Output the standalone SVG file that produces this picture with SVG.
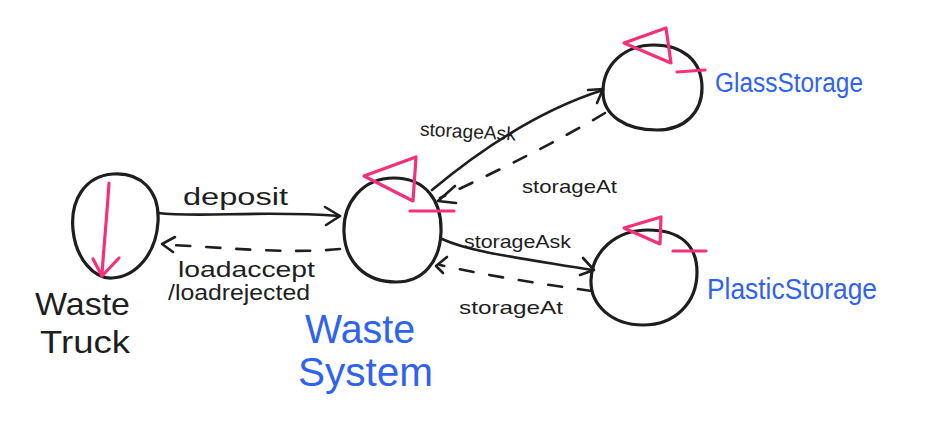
<svg xmlns="http://www.w3.org/2000/svg" width="941" height="445" viewBox="0 0 941 445">
<style>
.node{fill:none;stroke:#1e1e1e;stroke-width:3.2;stroke-linecap:round;stroke-linejoin:round}
.edge{fill:none;stroke:#1e1e1e;stroke-width:2.6;stroke-linecap:round;stroke-linejoin:round}
.dash{stroke-dasharray:14 16}
.pink{fill:none;stroke:#f5307a;stroke-width:3.2;stroke-linecap:round;stroke-linejoin:round}
.lbl{font-family:"Liberation Sans",Arial,sans-serif;fill:#1e1e1e}
.name{font-family:"Liberation Sans",Arial,sans-serif;fill:#2f62f0}
</style>
<rect width="941" height="445" fill="#ffffff"/>
<g id="connectors">
  <path class="edge" d="M158,213 C200,218 260,210 340,216"/>
  <path class="edge" d="M325,207 L340,216 L326,225"/>
  <text class="lbl" x="183" y="205" font-size="23" textLength="105" lengthAdjust="spacingAndGlyphs">deposit</text>
  <path class="edge dash" d="M340,249 C290,254 230,248 172,245"/>
  <path class="edge" d="M175,237 L162,244 L173,252"/>
  <text class="lbl" x="178" y="277" font-size="22" textLength="137" lengthAdjust="spacingAndGlyphs">loadaccept</text>
  <text class="lbl" x="168" y="300" font-size="22" textLength="142" lengthAdjust="spacingAndGlyphs">/loadrejected</text>
  <path class="edge" d="M432,190 C480,150 540,110 603,90"/>
  <path class="edge" d="M588,90 L603,89 L597,103"/>
  <text class="lbl" x="420" y="138" font-size="19" textLength="96" lengthAdjust="spacingAndGlyphs" transform="rotate(3 468 130)">storageAsk</text>
  <path class="edge dash" d="M605,113 C560,140 500,170 440,198"/>
  <path class="edge" d="M455,186 L438,201 L456,203"/>
  <text class="lbl" x="522" y="193" font-size="19" textLength="95" lengthAdjust="spacingAndGlyphs">storageAt</text>
  <path class="edge" d="M442,239 C470,252 520,258 592,270"/>
  <path class="edge" d="M583,258 L594,270 L580,275"/>
  <text class="lbl" x="464" y="248" font-size="19" textLength="107" lengthAdjust="spacingAndGlyphs">storageAsk</text>
  <path class="edge dash" d="M592,291 C540,284 490,276 440,265"/>
  <path class="edge" d="M447,257 L436,266 L443,273"/>
  <text class="lbl" x="459" y="314" font-size="19" textLength="104" lengthAdjust="spacingAndGlyphs">storageAt</text>
</g>
<g id="waste-truck">
  <path class="node" d="M158,222 C160,190 140,172 113,174 C85,176 70,200 73,230 C76,260 95,279 112,278 C135,277 156,255 158,222 Z"/>
  <path class="pink" d="M109,183 C107,215 104,245 102,274"/>
  <path class="pink" d="M93,259 L102,276 L119,258"/>
  <text class="lbl" x="35" y="315" font-size="32" textLength="95" lengthAdjust="spacingAndGlyphs">Waste</text>
  <text class="lbl" x="40" y="353" font-size="32" textLength="90" lengthAdjust="spacingAndGlyphs">Truck</text>
</g>
<g id="waste-system">
  <path class="node" d="M441,232 C442,200 425,178 394,178 C362,178 343,203 344,232 C345,262 365,282 396,282 C423,282 440,262 441,232 Z"/>
  <path class="pink" d="M364,176 L416,157 L413,201 Z"/>
  <path class="pink" d="M410,211 L454,211"/>
  <text class="name" x="305" y="343" font-size="40" textLength="110" lengthAdjust="spacingAndGlyphs">Waste</text>
  <text class="name" x="298" y="386" font-size="40" textLength="135" lengthAdjust="spacingAndGlyphs">System</text>
</g>
<g id="glass-storage">
  <path class="node" d="M702,88 C702,60 682,45 654,45 C624,45 603,65 603,92 C603,115 625,130 657,130 C685,130 702,112 702,88 Z"/>
  <path class="pink" d="M624,43 L666,28 L671,63 Z"/>
  <path class="pink" d="M677,72 L705,70"/>
  <text class="name" x="715" y="92" font-size="27" textLength="148" lengthAdjust="spacingAndGlyphs">GlassStorage</text>
</g>
<g id="plastic-storage">
  <path class="node" d="M697,272 C697,245 680,230 648,230 C615,230 592,252 591,280 C590,305 612,325 643,325 C675,325 697,303 697,272 Z"/>
  <path class="pink" d="M624,228 L661,217 L660,244 Z"/>
  <path class="pink" d="M673,251 L706,251"/>
  <text class="name" x="707" y="299" font-size="30" textLength="170" lengthAdjust="spacingAndGlyphs">PlasticStorage</text>
</g>
</svg>
